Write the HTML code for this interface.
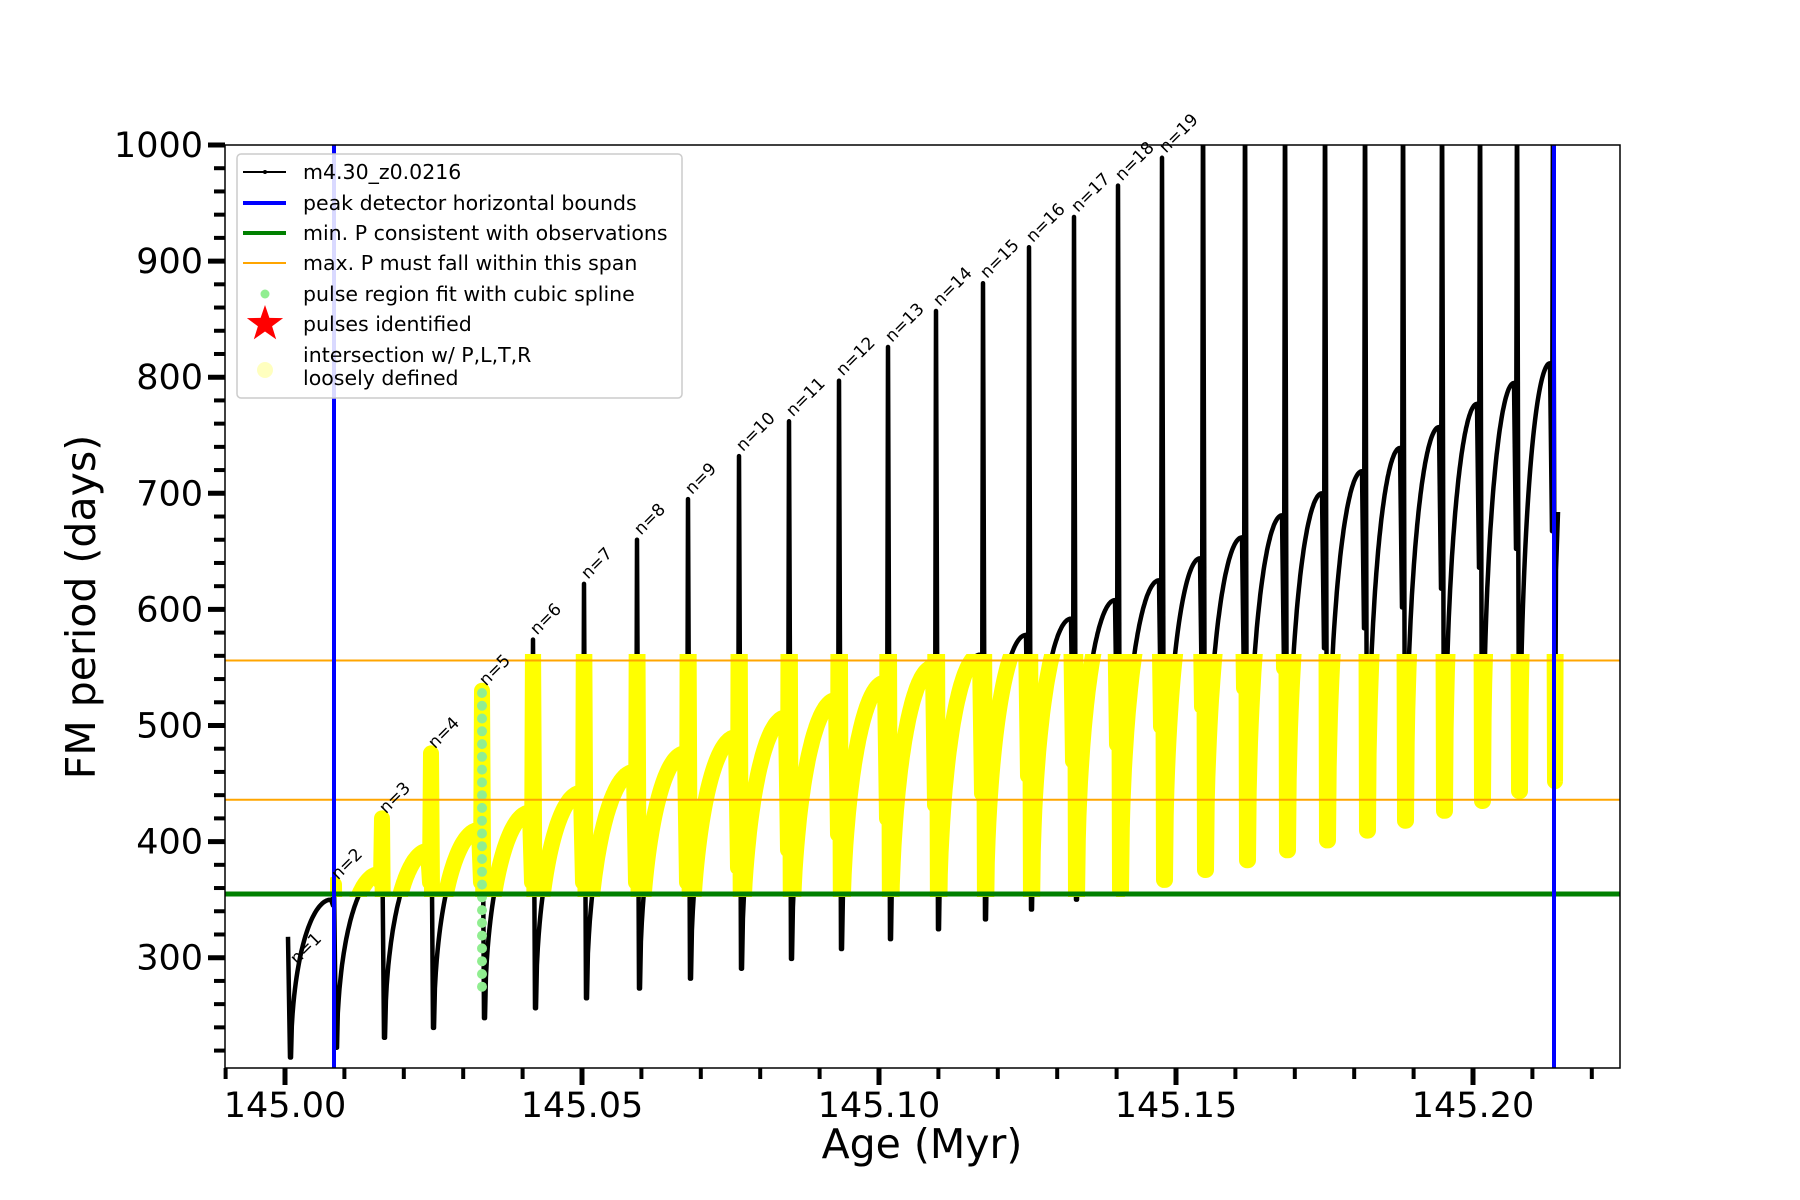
<!DOCTYPE html>
<html><head><meta charset="utf-8">
<style>
html,body{margin:0;padding:0;background:#fff;}
svg{display:block;}
text{font-family:"DejaVu Sans","Liberation Sans",sans-serif;fill:#000;}
</style></head>
<body>
<svg id="s" width="1800" height="1200" viewBox="0 0 1800 1200" xmlns="http://www.w3.org/2000/svg">
<defs>
<clipPath id="ax"><rect x="225" y="145" width="1395" height="923"/></clipPath>
<clipPath id="yb"><rect x="330" y="654" width="1290" height="243"/></clipPath>
</defs>
<rect width="1800" height="1200" fill="#fff"/>
<g id="plot" clip-path="url(#ax)"></g>
<g id="labels"></g>
<rect x="225" y="145" width="1395" height="923" fill="none" stroke="#000" stroke-width="1.5"/>
<g id="ticks"></g>
<text x="84" y="607" font-size="41" text-anchor="middle" transform="rotate(-90 84 607)" dominant-baseline="middle">FM period (days)</text>
<text x="922" y="1158" font-size="41" text-anchor="middle">Age (Myr)</text>
<g id="legend">
<rect x="237" y="154" width="445" height="244" rx="4" fill="#fff" fill-opacity="0.85" stroke="#ccc" stroke-width="1.5"/>
<line x1="243" y1="172" x2="286" y2="172" stroke="#000" stroke-width="2"/><circle cx="265" cy="172" r="2" fill="#000"/>
<line x1="243" y1="203" x2="286" y2="203" stroke="#00f" stroke-width="4"/>
<line x1="243" y1="233" x2="286" y2="233" stroke="#008000" stroke-width="4"/>
<line x1="243" y1="263" x2="286" y2="263" stroke="#ffa500" stroke-width="2"/>
<circle cx="265" cy="294" r="4.5" fill="#90ee90"/>
<polygon id="star" fill="#f00"/>
<circle cx="265" cy="370" r="8" fill="#ffff00" fill-opacity="0.25"/>
<text x="303" y="179" font-size="20.5">m4.30_z0.0216</text>
<text x="303" y="210" font-size="20.5">peak detector horizontal bounds</text>
<text x="303" y="240" font-size="20.5">min. P consistent with observations</text>
<text x="303" y="270" font-size="20.5">max. P must fall within this span</text>
<text x="303" y="301" font-size="20.5">pulse region fit with cubic spline</text>
<text x="303" y="331" font-size="20.5">pulses identified</text>
<text x="303" y="362" font-size="20.5">intersection w/ P,L,T,R</text>
<text x="303" y="385" font-size="20.5">loosely defined</text>
</g>
</svg>
<script>
(function(){
var NS="http://www.w3.org/2000/svg";
function el(t,a,p){var e=document.createElementNS(NS,t);for(var k in a)e.setAttribute(k,a[k]);p.appendChild(e);return e;}
var Y=function(p){return 145+(1000-p)*1.161;};
var XA=function(a){return 285+(a-145)*5940;};
var plot=document.getElementById('plot'), ticks=document.getElementById('ticks'), labels=document.getElementById('labels');
var X=[288,334,382,431,482,533,584,637,688,739,789,839,888,936,983,1029,1074,1118,1162,1203,1245,1285,1325,1365,1403,1442,1480,1517,1553];
var PK=[318,363,420,476,530,574,622,660,695,732,762,797,826,857,881,912,938,965,989];
while(PK.length<29)PK.push(1060);
var AM=[350,372,392,410,425,442,460,476,490,507,522,537,550,561,578,592,608,625,644,662,681,700,719,739,757,777,795,812];
function dip(i){return 214+i*8.5;}
var d="M288,"+Y(318).toFixed(1)+" L290,"+Y(214).toFixed(1);
for(var i=0;i<29;i++){
  if(i>0){
    var am=AM[i-1];
    var pre=am<=476?Math.min(am-5,365):365+(am-476)*0.9;
    d+=" L"+(X[i]-1)+","+Y(pre).toFixed(1)+" L"+X[i]+","+Y(PK[i]).toFixed(1)+" L"+(X[i]+2)+","+Y(dip(i)).toFixed(1);
  }
  if(i<28){
    var xa=X[i]+3, xb=X[i+1]-3, N=50, dp=dip(i), m=AM[i];
    for(var k=0;k<=N;k++){var u=k/N;var f=Math.pow(1-Math.pow(1-u,2),0.5);var p=dp+(m-dp)*f;d+=" L"+(xa+(xb-xa)*u).toFixed(1)+","+Y(p).toFixed(1);}
  }
}
d+=" L1556,"+Y(634).toFixed(1)+" L1558,"+Y(684).toFixed(1);
el('path',{d:d,fill:'none',stroke:'#000','stroke-width':4.5,'stroke-linejoin':'round'},plot);
el('path',{d:d,fill:'none',stroke:'#ffff00','stroke-width':16,'stroke-linejoin':'round','stroke-linecap':'round','clip-path':'url(#yb)'},plot);
for(var p=528;p>=268;p-=11){el('circle',{cx:482,cy:Y(p).toFixed(1),r:5,fill:'#90ee90'},plot);}
el('line',{x1:225,x2:1620,y1:Y(556),y2:Y(556),stroke:'#ffa500','stroke-width':2},plot);
el('line',{x1:225,x2:1620,y1:Y(436),y2:Y(436),stroke:'#ffa500','stroke-width':2},plot);
el('line',{x1:225,x2:1620,y1:894,y2:894,stroke:'#008000','stroke-width':5},plot);
el('line',{x1:334,x2:334,y1:145,y2:1068,stroke:'#00f','stroke-width':4},plot);
el('line',{x1:1554,x2:1554,y1:145,y2:1068,stroke:'#00f','stroke-width':4},plot);
for(var n=1;n<=19;n++){
  var lx,ly;
  if(n==1){lx=297;ly=965;}else{lx=X[n-1]+4;ly=Y(PK[n-1])-4;}
  var t=el('text',{x:lx,y:ly,'font-size':17,transform:'rotate(-45 '+lx+' '+ly+')'},labels);t.textContent='n='+n;
}
for(var v=220;v<=1000;v+=20){
  var yy=Y(v), maj=(v%100==0);
  el('line',{x1:225-(maj?17:11),x2:225,y1:yy,y2:yy,stroke:'#000','stroke-width':maj?5:4},ticks);
  if(maj){var t2=el('text',{x:203,y:yy+12,'font-size':35,'text-anchor':'end'},ticks);t2.textContent=v;}
}
for(var j=-1;j<=22;j++){
  var a=145+j*0.01, xx=XA(a), maj=(j%5==0);
  if(xx<224||xx>1621)continue;
  el('line',{x1:xx,x2:xx,y1:1068,y2:1068+(maj?17:11),stroke:'#000','stroke-width':maj?5:4},ticks);
  if(maj){var t3=el('text',{x:xx,y:1117,'font-size':35,'text-anchor':'middle'},ticks);t3.textContent=a.toFixed(2);}
}
var pts=[],cx=265,cy=324,R=19,r=7.5;
for(var q=0;q<10;q++){var ang=-Math.PI/2+q*Math.PI/5,rr=q%2?r:R;pts.push((cx+rr*Math.cos(ang)).toFixed(1)+","+(cy+rr*Math.sin(ang)).toFixed(1));}
document.getElementById('star').setAttribute('points',pts.join(' '));
})();
</script>
</body></html>
